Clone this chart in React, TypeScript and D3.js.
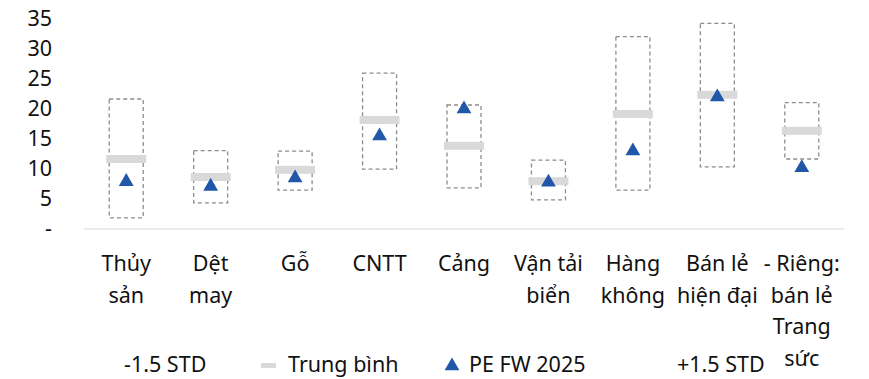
import React from 'react';
import * as d3 from 'd3';

// Sector labels (line-wrapped as in the source)
const categories = [
  ['Thủy', 'sản'],
  ['Dệt', 'may'],
  ['Gỗ'],
  ['CNTT'],
  ['Cảng'],
  ['Vận tải', 'biển'],
  ['Hàng', 'không'],
  ['Bán lẻ', 'hiện đại'],
  ['- Riêng:', 'bán lẻ', 'Trang', 'sức'],
];

// P/E bands
const lowerStd = [1.7, 4.2, 6.3, 9.8, 6.7, 4.7, 6.3, 10.2, 11.5];
const upperStd = [21.5, 12.9, 12.8, 25.8, 20.5, 11.3, 31.9, 34.1, 20.9];
const average = [11.5, 8.5, 9.7, 18.0, 13.7, 7.8, 19.0, 22.2, 16.2];
const peFw2025 = [7.9, 7.1, 8.5, 15.5, 20.0, 7.8, 13.0, 22.0, 10.2];

const yTicks = [0, 5, 10, 15, 20, 25, 30, 35];

const W = 869;
const H = 379;
const FONT = '"Noto Sans", "Open Sans", sans-serif';

export default function App() {
  const x = d3.scaleBand<number>()
    .domain(d3.range(categories.length))
    .range([84, 844])
    .padding(0);
  const y = d3.scaleLinear().domain([0, 35]).range([228, 18]);

  const boxW = 34;
  const meanW = 40;
  const tri = d3.symbol().type(d3.symbolTriangle).size(95)();

  return (
    <svg width={W} height={H} style={{ position: 'absolute', left: 0, top: 0, fontFamily: FONT }}>
      <rect width={W} height={H} fill="#fff" />

      {/* y axis labels */}
      {yTicks.map(t => (
        <text key={t} x={52} y={y(t)} dy="0.36em" textAnchor="end" fontSize={21.5} fill="#111">
          {t === 0 ? '-' : t}
        </text>
      ))}

      {/* baseline */}
      <line x1={84} x2={844} y1={y(0) + 1} y2={y(0) + 1} stroke="#e6e6e6" strokeWidth={1.5} />

      {categories.map((_, i) => {
        const cx = x(i)! + x.bandwidth() / 2;
        return (
          <g key={i}>
            <rect
              x={cx - boxW / 2}
              y={y(upperStd[i])}
              width={boxW}
              height={y(lowerStd[i]) - y(upperStd[i])}
              fill="none"
              stroke="#8c8c8c"
              strokeWidth={1.3}
              strokeDasharray="4 3"
            />
            <rect x={cx - meanW / 2} y={y(average[i]) - 4} width={meanW} height={8} fill="#d9d9d9" />
            <path d={tri!} transform={`translate(${cx},${y(peFw2025[i]) + 1})`} fill="#2157a8" />
          </g>
        );
      })}

      {/* category labels */}
      {categories.map((lines, i) => {
        const cx = x(i)! + x.bandwidth() / 2;
        return (
          <text key={i} x={cx} y={271} textAnchor="middle" fontSize={21.5} fill="#111">
            {lines.map((l, j) => (
              <tspan key={j} x={cx} y={271 + j * 31.5}>{l}</tspan>
            ))}
          </text>
        );
      })}

      {/* legend */}
      <g fontSize={21.5} fill="#111">
        <text x={124} y={372}>-1.5 STD</text>
        <rect x={261} y={363} width={15} height={5} fill="#d9d9d9" />
        <text x={288} y={372}>Trung bình</text>
        <path d={tri!} transform="translate(452,366)" fill="#2157a8" />
        <text x={469} y={372}>PE FW 2025</text>
        <text x={677} y={372}>+1.5 STD</text>
      </g>
    </svg>
  );
}
